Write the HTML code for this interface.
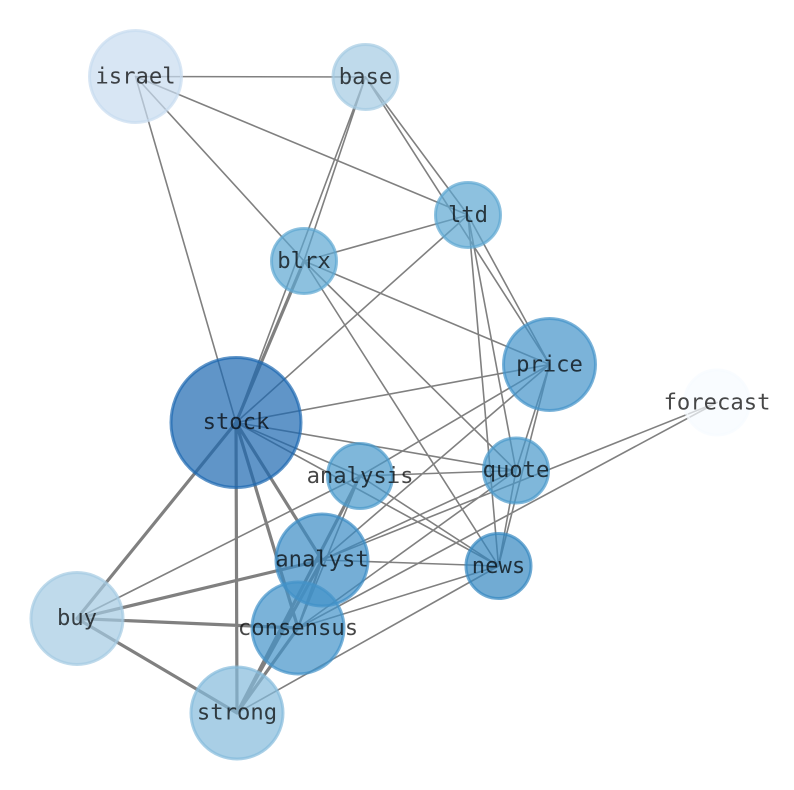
<!DOCTYPE html>
<html><head><meta charset="utf-8"><style>html,body{margin:0;padding:0;background:#fff}svg{display:block}text{font-family:"DejaVu Sans Mono","Liberation Mono",monospace;font-size:22.2px;text-anchor:middle;fill:#000;fill-opacity:.72}</style></head><body>
<svg width="794" height="790" viewBox="0 0 794 790" xmlns="http://www.w3.org/2000/svg">
<rect width="794" height="790" fill="#fff"/>
<g stroke="#808080" stroke-width="1.6" fill="none" stroke-linecap="round">
<path d="M135.500 76.500L365.500 77M135.500 76.500L468 215M135.500 76.500L304 261M135.500 76.500L236 422.500M365.500 77L468 215M365.500 77L549.500 364.500M365.500 77L304 261M365.500 77L236 422.500M468 215L304 261M468 215L236 422.500M468 215L549.500 364.500M468 215L516 470.500M468 215L498.500 566M304 261L549.500 364.500M304 261L516 470.500M304 261L498.500 566M549.500 364.500L236 422.500M549.500 364.500L360 476M77 618.500L360 476M549.500 364.500L322 560M549.500 364.500L516 470.500M549.500 364.500L498.500 566M236 422.500L360 476M236 422.500L516 470.500M236 422.500L498.500 566M360 476L516 470.500M360 476L498.500 566M516 470.500L322 560M516 470.500L298 628M516 470.500L498.500 566M717 402.500L322 560M717 402.500L298 628M322 560L498.500 566M498.500 566L298 628M498.500 566L237 713M360 476L298 628"/>
</g>
<g stroke="#808080" stroke-width="3.2" fill="none" stroke-linecap="round">
<path d="M304 261L236 422.500M236 422.500L322 560M236 422.500L298 628M236 422.500L237 713M236 422.500L77 618.500M360 476L237 713M322 560L77 618.500M322 560L237 713M77 618.500L298 628M77 618.500L237 713M298 628L237 713"/>
<path d="M322 560L298 628" stroke-width="2.4"/>
</g>
<g stroke-width="3" fill-opacity=".7" stroke-opacity=".7">
<circle cx="135.500" cy="76.500" r="46" fill="#c7dcf0" stroke="#c7dcf0"/>
<circle cx="365.500" cy="77" r="32.500" fill="#a4cae2" stroke="#a4cae2"/>
<circle cx="468" cy="215" r="32.500" fill="#5ca6d2" stroke="#5ca6d2"/>
<circle cx="304" cy="261" r="32.500" fill="#5ca6d2" stroke="#5ca6d2"/>
<circle cx="549.500" cy="364.500" r="46" fill="#4393c9" stroke="#4393c9"/>
<circle cx="717" cy="402.500" r="32.500" fill="#f7fbff" stroke="#f7fbff"/>
<circle cx="236" cy="422.500" r="65" fill="#1c68b0" stroke="#1c68b0"/>
<circle cx="360" cy="476" r="32.500" fill="#4898ca" stroke="#4898ca"/>
<circle cx="516" cy="470.500" r="32.500" fill="#4898ca" stroke="#4898ca"/>
<circle cx="322" cy="560" r="46" fill="#3b8bc4" stroke="#3b8bc4"/>
<circle cx="498.500" cy="566" r="32.500" fill="#3487c1" stroke="#3487c1"/>
<circle cx="77" cy="618.500" r="46" fill="#a4cae2" stroke="#a4cae2"/>
<circle cx="298" cy="628" r="46" fill="#4393c9" stroke="#4393c9"/>
<circle cx="237" cy="713" r="46" fill="#85badb" stroke="#85badb"/>
</g>
<g>
<text x="135.500" y="83.500">israel</text>
<text x="365.500" y="84">base</text>
<text x="468" y="222">ltd</text>
<text x="304" y="268">blrx</text>
<text x="549.500" y="371.500">price</text>
<text x="717" y="409.500">forecast</text>
<text x="236" y="429">stock</text>
<text x="360" y="483">analysis</text>
<text x="516" y="477">quote</text>
<text x="322" y="566.500">analyst</text>
<text x="498.500" y="573">news</text>
<text x="77" y="625">buy</text>
<text x="298" y="635">consensus</text>
<text x="237" y="719.500">strong</text>
</g>
</svg>
</body></html>
